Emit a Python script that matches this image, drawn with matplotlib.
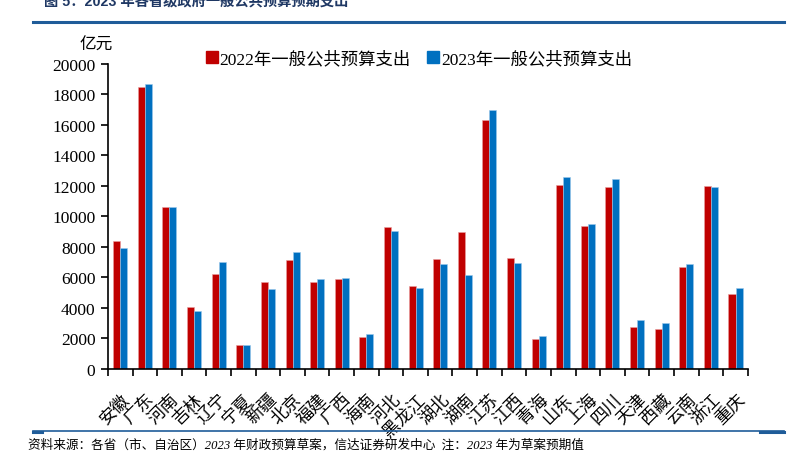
import numpy as np
import matplotlib
matplotlib.use("Agg")
import matplotlib.pyplot as plt
import matplotlib.transforms as mtransforms
from matplotlib.lines import Line2D

plt.rcParams['font.family'] = ['Liberation Serif', 'Noto Sans CJK SC', 'DejaVu Sans']

provinces = ['安徽', '广东', '河南', '吉林', '辽宁', '宁夏', '新疆', '北京', '福建', '广西',
             '海南', '河北', '黑龙江', '湖北', '湖南', '江苏', '江西', '青海', '山东', '上海',
             '四川', '天津', '西藏', '云南', '浙江', '重庆']
spend_2022 = [8370, 18470, 10640, 4040, 6250, 1600, 5730, 7150, 5700, 5900,
              2100, 9310, 5440, 7240, 8980, 16310, 7260, 1970, 12090, 9380,
              11910, 2750, 2600, 6710, 12000, 4900]
spend_2023 = [7930, 18690, 10640, 3780, 7010, 1580, 5270, 7650, 5880, 5970,
              2300, 9050, 5290, 6860, 6160, 16960, 6950, 2190, 12570, 9490,
              12440, 3190, 3000, 6910, 11910, 5290]
yticks = np.arange(0, 20001, 2000)

red = '#C00000'
blue = '#0070C0'

fig = plt.figure(figsize=(7.88, 4.56), dpi=100)
ax = fig.add_axes([0.137, 0.1886, 0.812, 0.6689])

x = np.arange(len(provinces))
w = 0.285
ax.bar(x - w / 2, spend_2022, w, color=red, edgecolor='#E8A0A0', linewidth=0.4)
ax.bar(x + w / 2, spend_2023, w, color=blue, edgecolor='#9CC8EA', linewidth=0.4)

ax.set_xlim(-0.5, len(provinces) - 0.5)
ax.set_ylim(0, 20000)
ax.set_yticks(yticks)
ax.set_yticklabels([str(v) for v in yticks], fontsize=12.5)
ax.tick_params(axis='y', direction='out', length=5, width=1.2, pad=4)

# category labels drawn as text, ticks at category borders
ax.set_xticks(np.arange(-0.5, len(provinces)))
ax.set_xticklabels([])
ax.tick_params(axis='x', direction='out', length=5, width=1.2)
lab_tr = ax.get_xaxis_transform() + mtransforms.ScaledTranslation(0.0, -0.21, fig.dpi_scale_trans)
for i, name in enumerate(provinces):
    ax.text(i, 0, name, transform=lab_tr, rotation=45, rotation_mode='anchor',
            ha='right', va='top', fontsize=12.5, family=['Noto Sans CJK SC'])

for s in ['top', 'right']:
    ax.spines[s].set_visible(False)
for s in ['left', 'bottom']:
    ax.spines[s].set_linewidth(1.2)

handles = [Line2D([], [], marker='s', color=red, linestyle='none', markersize=8),
           Line2D([], [], marker='s', color=blue, linestyle='none', markersize=8)]
fig.legend(handles, ['2022年一般公共预算支出', '2023年一般公共预算支出'],
           loc='center left', bbox_to_anchor=(0.24, 0.868), ncol=2, frameon=False,
           fontsize=12.5, handletextpad=0.05, columnspacing=0.9, handlelength=0.8)

fig.text(0.101, 0.90, '亿元', fontsize=12, family=['Noto Sans CJK SC'], ha='left', va='center')

# title and rules
fig.text(0.056, 0.995, '图 5：2023 年各省级政府一般公共预算预期支出', fontsize=10.3,
         fontweight='bold', color='#1F3864', ha='left', va='center',
         family=['Liberation Sans', 'Noto Sans CJK SC'])
fig.add_artist(Line2D([0.042, 0.995], [0.949, 0.949], color='#1F5C99', linewidth=2.2))
fig.add_artist(Line2D([0.042, 0.995], [0.053, 0.053], color='#1F5C99', linewidth=1.2))
fig.add_artist(Line2D([0.042, 0.053], [0.051, 0.051], color='#1F5C99', linewidth=2.2))
fig.add_artist(Line2D([0.965, 0.995], [0.051, 0.051], color='#1F5C99', linewidth=2.2))
fig.text(0.036, 0.024, '资料来源：各省（市、自治区）2023 年财政预算草案，信达证券研发中心  注：2023 年为草案预期值',
         fontsize=9.1, style='italic', ha='left', va='center',
         family=['Liberation Serif', 'Noto Sans CJK SC'])

fig.savefig('out.png', dpi=100)
